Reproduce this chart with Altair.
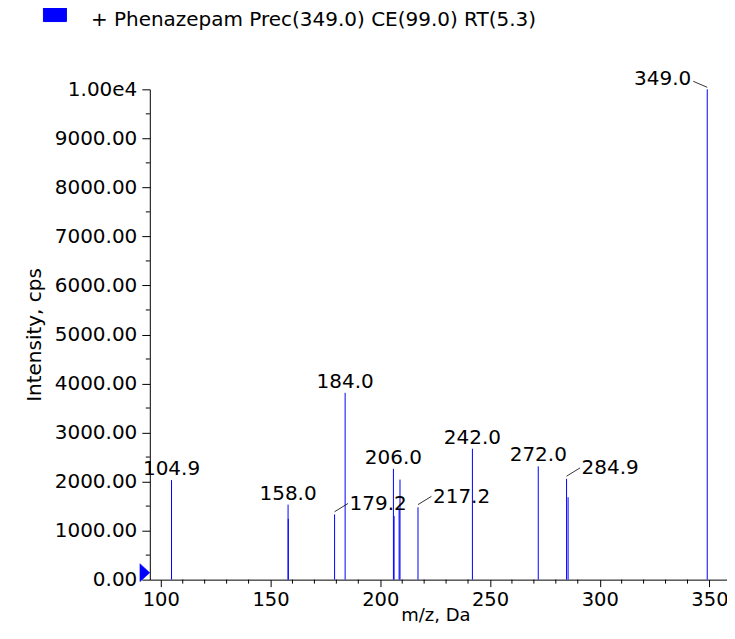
import altair as alt
import pandas as pd

series_name = "+ Phenazepam Prec(349.0) CE(99.0) RT(5.3)"

# peak list (m/z, intensity in cps)
mz = [104.9, 158.0, 158.1, 179.2, 184.0, 206.0, 206.3, 208.6, 209.0, 217.2, 242.0, 272.0, 284.9, 285.6, 349.0]
intensity = [2030, 1530, 1240, 1330, 3810, 2260, 1300, 1430, 2040, 1475, 2670, 2310, 2055, 1680, 10000]

# labelled peaks
label_mz = [104.9, 158.0, 179.2, 184.0, 206.0, 217.2, 242.0, 272.0, 284.9, 349.0]
label_int = [2030, 1530, 1330, 3810, 2260, 1475, 2670, 2310, 2055, 10000]
label_side = ["center", "center", "right", "center", "center", "right", "center", "center", "right", "left"]

x_major = [100, 150, 200, 250, 300, 350]
x_minor = [110, 120, 130, 140, 160, 170, 180, 190, 210, 220, 230, 240,
           260, 270, 280, 290, 310, 320, 330, 340]
y_major = [0, 1000, 2000, 3000, 4000, 5000, 6000, 7000, 8000, 9000, 10000]
y_minor = [500, 1500, 2500, 3500, 4500, 5500, 6500, 7500, 8500, 9500]

x_domain = [95, 358]
y_domain = [0, 10000]

marker_x = [95]
marker_y = [0]

FONT = "DejaVu Sans"
FS = 20

peaks = pd.DataFrame({"mz": mz, "intensity": intensity, "series": series_name})
labels = pd.DataFrame({"mz": label_mz, "intensity": label_int, "side": label_side,
                       "label": [f"{v:.1f}" for v in label_mz]})
xminor_df = pd.DataFrame({"v": x_minor})
yminor_df = pd.DataFrame({"v": y_minor})
marker_df = pd.DataFrame({"mz": marker_x, "intensity": marker_y})

xs = alt.Scale(domain=x_domain, nice=False, zero=False)
ys = alt.Scale(domain=y_domain, nice=False, zero=False)

xaxis = alt.Axis(values=x_major, tickSize=7, tickColor="black", domainColor="black",
                 labelFont=FONT, labelFontSize=19.5, labelColor="black", labelPadding=4,
                 labelFlush=False, labelOverlap=False, grid=False,
                 title="m/z, Da", titleFont=FONT, titleFontSize=18, titleFontWeight="normal",
                 titleColor="black", titleX=286, titleY=41, titleBaseline="alphabetic",
                 titleAlign="center")
yaxis = alt.Axis(values=y_major, tickSize=8, tickColor="black", domainColor="black",
                 labelExpr="datum.value >= 10000 ? '1.00e4' : format(datum.value, '.2f')",
                 labelFont=FONT, labelFontSize=FS, labelColor="black", labelPadding=5,
                 labelFlush=False, labelOverlap=False, grid=False,
                 title="Intensity, cps", titleFont=FONT, titleFontSize=FS, titleFontWeight="normal",
                 titleColor="black", titleX=-109, titleY=245.5, titleAngle=270,
                 titleBaseline="alphabetic", titleAlign="center")

legend = alt.Legend(title=None, orient="none", legendX=-107, legendY=-81,
                    symbolType="M-1,-1.2H1V0.1H-1Z", symbolSize=529,
                    symbolFillColor="#0000ff", symbolStrokeColor="black", symbolStrokeWidth=1,
                    labelFont=FONT, labelFontSize=FS, labelColor="black", labelOffset=24,
                    padding=0, labelLimit=0)

X = lambda f: alt.X(f, scale=xs, axis=xaxis)
Y = lambda f: alt.Y(f, scale=ys, axis=yaxis)

bars = alt.Chart(peaks).mark_rule(strokeWidth=1).encode(
    x=X("mz:Q"),
    y=Y("intensity:Q"),
    y2=alt.datum(0),
    color=alt.Color("series:N", scale=alt.Scale(range=["#0000ff"]), legend=legend),
)

xminor = alt.Chart(xminor_df).mark_rule(color="black", strokeWidth=1).encode(
    x=X("v:Q"),
    y=alt.value(491), y2=alt.value(495),
)
yminor = alt.Chart(yminor_df).mark_rule(color="black", strokeWidth=1).encode(
    y=Y("v:Q"),
    x=alt.value(0), x2=alt.value(-4),
)

marker = alt.Chart(marker_df).mark_point(
    shape="M-1.1,-1L0,0L-1.1,1Z", size=324, filled=True, fill="#0000ff",
    stroke="#0000ff", strokeWidth=0.5, opacity=1, yOffset=-7,
).encode(x=X("mz:Q"), y=Y("intensity:Q"))

txt_kw = dict(font=FONT, fontSize=FS, color="black", baseline="alphabetic")
enc = dict(x=X("mz:Q"), y=Y("intensity:Q"), text="label:N")

lab_c = alt.Chart(labels).transform_filter("datum.side == 'center'").mark_text(
    align="center", dy=-5, **txt_kw).encode(**enc)
lab_r = alt.Chart(labels).transform_filter("datum.side == 'right'").mark_text(
    align="left", dx=15, dy=-4.5, **txt_kw).encode(**enc)
lab_l = alt.Chart(labels).transform_filter("datum.side == 'left'").mark_text(
    align="right", dx=-16, dy=-4, **txt_kw).encode(**enc)

lead_enc = dict(x=X("mz:Q"), x2=alt.X2("mz:Q"),
                y=Y("intensity:Q"), y2=alt.Y2("intensity:Q"))
lead_r = alt.Chart(labels).transform_filter("datum.side == 'right'").mark_rule(
    color="black", strokeWidth=0.8, yOffset=-2.7, x2Offset=13.5, y2Offset=-11).encode(**lead_enc)
lead_l = alt.Chart(labels).transform_filter("datum.side == 'left'").mark_rule(
    color="black", strokeWidth=0.8, yOffset=-2, x2Offset=-14, y2Offset=-8).encode(**lead_enc)

chart = alt.layer(bars, xminor, yminor, marker, lead_r, lead_l, lab_c, lab_r, lab_l).properties(
    width=578, height=491,
    padding={"left": 142, "top": 81, "right": 0, "bottom": 44},
    autosize=alt.AutoSizeParams(type="none"),
    background="white",
).configure_view(stroke=None)

chart.save("out.html", embed_options={"renderer": "svg", "actions": False})
